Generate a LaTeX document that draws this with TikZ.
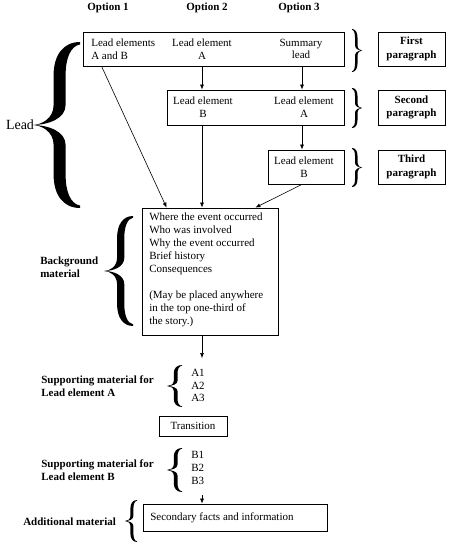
\documentclass[tikz,border=0pt]{standalone}
\usepackage{fontspec}
\setmainfont{Liberation Serif}
\usetikzlibrary{arrows.meta,calc}
\tikzset{
    box/.style =    {rectangle,
                    fill=white,
                    draw=black,
                    line width=0.8pt,
                    inner sep=0pt},
    txt/.style =    {inner sep=0pt,
                    align=center,
                    font=\fontsize{11}{12.8}\selectfont},
    lbl/.style =    {inner sep=0pt,
                    align=left,
                    font=\fontsize{11}{13.5}\selectfont\bfseries},
    -,
    % curly brace in a unit box, tip at the left
    curly/.pic =    {\fill (1,0) .. controls (0.65,0) and (0.45,0.08) .. (0.45,0.2)
                        -- (0.45,0.38) .. controls (0.45,0.46) and (0.2,0.5) .. (0,0.5)
                        .. controls (0.2,0.5) and (0.45,0.54) .. (0.45,0.62)
                        -- (0.45,0.8) .. controls (0.45,0.92) and (0.65,1) .. (1,1)
                        -- (1,0.985) .. controls (0.8,0.975) and (0.7,0.9) .. (0.7,0.8)
                        -- (0.7,0.62) .. controls (0.7,0.54) and (0.35,0.5) .. (0,0.5)
                        .. controls (0.35,0.5) and (0.7,0.46) .. (0.7,0.38)
                        -- (0.7,0.2) .. controls (0.7,0.1) and (0.8,0.025) .. (1,0.015) -- cycle;},
    >={Latex[length=5pt,width=4pt]},
    every path/.style={line width=0.6pt}}

\begin{document}
\begin{tikzpicture}[x=1pt,y=-1pt]
    \useasboundingbox (0,0) rectangle (450,545);
    % column heads
    \node[lbl]  (O1) at (108,8)     {Option 1};
    \node[lbl]  (O2) at (207,8)     {Option 2};
    \node[lbl]  (O3) at (299,8)     {Option 3};

    % lead paragraphs
    \node[box, minimum width=261pt, minimum height=34pt]   (P1) at (213.5,49)  {};
    \node[txt, align=left, anchor=west]                     (P1a) at (91,49)    {Lead elements\\A and B};
    \node[txt]                                              (P1b) at (202,49)   {Lead element\\A};
    \node[txt]                                              (P1c) at (301,49)   {Summary\\lead};

    \node[box, minimum width=177pt, minimum height=35pt]   (P2) at (255.5,107.5) {};
    \node[txt]                                              (P2a) at (203,107.5) {Lead element\\B};
    \node[txt]                                              (P2b) at (304,107.5) {Lead element\\A};

    \node[box, minimum width=76pt, minimum height=34pt]    (P3) at (306,167)   {};
    \node[txt]                                              (P3a) at (304,167)  {Lead element\\B};

    % paragraph labels
    \node[box, minimum width=67pt, minimum height=34pt, lbl, align=center]  (L1) at (411.5,49)    {First\\paragraph};
    \node[box, minimum width=67pt, minimum height=35pt, lbl, align=center]  (L2) at (411.5,107.5) {Second\\paragraph};
    \node[box, minimum width=67pt, minimum height=34pt, lbl, align=center]  (L3) at (411.5,167)   {Third\\paragraph};
    \pic[xscale=-10, yscale=43]     at (362,29)     {curly};
    \pic[xscale=-10, yscale=40]     at (362,88)     {curly};
    \pic[xscale=-10, yscale=39]     at (362,148)    {curly};

    % lead brace
    \pic[xscale=48, yscale=166]     at (32,42)      {curly};
    \node[txt, font=\fontsize{14}{16}\selectfont]   (LD) at (20,125)    {Lead};

    % background
    \node[box, minimum width=136pt, minimum height=127pt]  (BG) at (210,271.5) {};
    \node[txt, align=left, anchor=north west, font=\fontsize{11}{12.9}\selectfont]  (BGt) at (149,213)
        {Where the event occurred\\Who was involved\\Why the event occurred\\Brief history\\Consequences\\[12.9pt](May be placed anywhere\\in the top one-third of\\the story.)};
    \pic[xscale=29, yscale=110]     at (104,216)    {curly};
    \node[lbl, anchor=west, font=\fontsize{11}{12.5}\selectfont\bfseries]  (BGl) at (40,267)  {Background\\material};

    \draw[->] ($(P1.south west)+(19,0)$) -- ($(BG.north west)+(25,0)$);
    \draw[->] (P2.south -| P1b) -- (BG.north -| P1b);
    \draw[->] (P3.south -| 302,0) -- ($(BG.north east)+(-23,0)$);
    \draw[->] (P1.south -| P1b) -- (P2.north -| P1b);
    \draw[->] (P1.south -| 302,0) -- (P2.north -| 302,0);
    \draw[->] (P2.south -| 302,0) -- (P3.north -| 302,0);

    % supporting material
    \node[txt, align=left, anchor=west, font=\fontsize{11}{12.5}\selectfont]  (SA) at (191,385.5)  {A1\\A2\\A3};
    \pic[xscale=15, yscale=42]      at (167,365)    {curly};
    \node[lbl, anchor=west]  (SAl) at (41,386)  {Supporting material for\\Lead element A};
    \coordinate (SAin) at (202,358);
    \draw[->] (BG.south -| P1b) -- (SAin);

    \node[box, minimum width=68pt, minimum height=20pt, txt]   (TR) at (193,426)  {Transition};

    \node[txt, align=left, anchor=west, font=\fontsize{11}{12.9}\selectfont]  (SB) at (191,468)  {B1\\B2\\B3};
    \pic[xscale=15, yscale=44]      at (167,448)    {curly};
    \node[lbl, anchor=west]  (SBl) at (41,470)  {Supporting material for\\Lead element B};

    % additional material
    \node[box, minimum width=184pt, minimum height=27pt]   (AD) at (235,517.5) {};
    \node[txt, anchor=west]  (ADt) at (150,517.5)   {Secondary facts and information};
    \pic[xscale=12, yscale=42]      at (125,500)    {curly};
    \node[lbl, anchor=west]  (ADl) at (23,522)  {Additional material};
    \coordinate (SBout) at (202,495);
    \draw[->] (SBout) -- (AD.north -| SBout);
\end{tikzpicture}
\end{document}
